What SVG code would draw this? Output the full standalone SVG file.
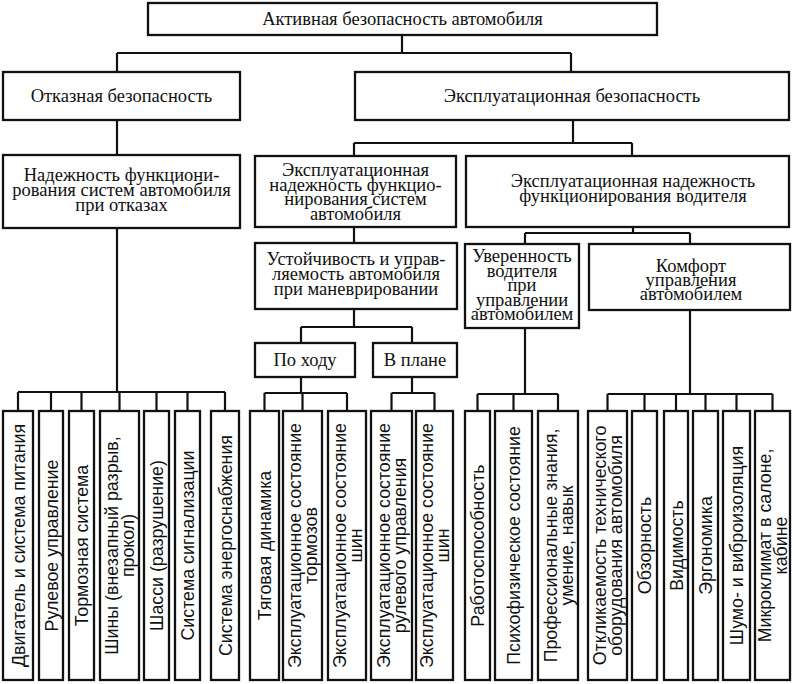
<svg xmlns="http://www.w3.org/2000/svg" width="794" height="684" viewBox="0 0 794 684">
<style>
.b{fill:#fff;stroke:#111;stroke-width:2.3}
.c{fill:none;stroke:#111;stroke-width:2.2}
.t{font-family:"Liberation Serif","Times New Roman",serif;font-size:18.5px;fill:#111;text-anchor:middle}
.v{font-family:"Liberation Sans",Arial,sans-serif;font-size:17.8px;fill:#111;text-anchor:middle}
</style>
<rect width="794" height="684" fill="#fff"/>
<g id="connectors" class="c">
<path d="M402 35V53M117 53H571M117 53V72M571 53V72"/>
<path d="M117 120V155"/>
<path d="M573 120V143M354 143H632M354 143V156M632 143V156"/>
<path d="M354 227V243"/>
<path d="M633 227V233M525 233H690M525 233V244M690 233V244"/>
<path d="M354 309V327M301 327H412M301 327V343M412 327V343"/>
<path d="M117 228V392M18 392H225M18 392V411M51 392V411M81.5 392V411M119.5 392V411M156.5 392V411M187.5 392V411M225 392V411"/>
<path d="M301 377V393M264.5 393H347M264.5 393V411M302.5 393V411M347 393V411"/>
<path d="M412 377V393M391.5 393H434.5M391.5 393V411M434.5 393V411"/>
<path d="M525 328V394M477.5 394H558M477.5 394V411M513.5 394V411M558 394V411"/>
<path d="M690 310V394M607.5 394H772.5M607.5 394V411M644.5 394V411M676 394V411M705.5 394V411M736.5 394V411M772.5 394V411"/>
</g>
<g id="n-root"><rect class="b" x="148" y="3" width="509" height="32"/><text class="t" x="402.5" y="25">Активная безопасность автомобиля</text></g>
<g id="n-otkaz"><rect class="b" x="3" y="72" width="237" height="48"/><text class="t" x="121.5" y="102">Отказная безопасность</text></g>
<g id="n-expl"><rect class="b" x="355" y="72" width="434" height="48"/><text class="t" x="572" y="102">Эксплуатационная безопасность</text></g>
<g id="n-nadezh"><rect class="b" x="3" y="155" width="237" height="73"/><text class="t" x="121.5" y="181">Надежность функциони-</text><text class="t" x="121.5" y="196">рования систем автомобиля</text><text class="t" x="121.5" y="211">при отказах</text></g>
<g id="n-sys"><rect class="b" x="255" y="156" width="201" height="71"/><text class="t" x="355.5" y="176">Эксплуатационная</text><text class="t" x="355.5" y="190.5">надежность функцио-</text><text class="t" x="355.5" y="205">нирования систем</text><text class="t" x="355.5" y="219.5">автомобиля</text></g>
<g id="n-driver"><rect class="b" x="466" y="156" width="323" height="71"/><text class="t" x="633" y="187">Эксплуатационная надежность</text><text class="t" x="633" y="201.5">функционирования водителя</text></g>
<g id="n-ustoich"><rect class="b" x="255" y="243" width="202" height="66"/><text class="t" x="356" y="265">Устойчивость и управ-</text><text class="t" x="356" y="280">ляемость автомобиля</text><text class="t" x="356" y="295">при маневрировании</text></g>
<g id="n-uver"><rect class="b" x="465" y="244" width="114" height="84"/><text class="t" x="522" y="262">Уверенность</text><text class="t" x="522" y="276.5">водителя</text><text class="t" x="522" y="291">при</text><text class="t" x="522" y="305.5">управлении</text><text class="t" x="522" y="320">автомобилем</text></g>
<g id="n-komfort"><rect class="b" x="589" y="244" width="201" height="66"/><text class="t" x="691" y="272">Комфорт</text><text class="t" x="691" y="286">управления</text><text class="t" x="691" y="300">автомобилем</text></g>
<g id="n-pohodu"><rect class="b" x="255" y="343" width="100" height="34"/><text class="t" x="305" y="366">По ходу</text></g>
<g id="n-vplane"><rect class="b" x="373" y="343" width="84" height="34"/><text class="t" x="415" y="366">В плане</text></g>
<g id="c01"><rect class="b" x="3" y="411" width="30" height="269"/><text class="v" transform="translate(18 545.5) rotate(-90)" y="6.5">Двигатель и система питания</text></g>
<g id="c02"><rect class="b" x="39" y="411" width="24" height="269"/><text class="v" transform="translate(51 545.5) rotate(-90)" y="6.5">Рулевое управление</text></g>
<g id="c03"><rect class="b" x="69" y="411" width="25" height="269"/><text class="v" transform="translate(81.5 545.5) rotate(-90)" y="6.5">Тормозная система</text></g>
<g id="c04"><rect class="b" x="100" y="411" width="39" height="269"/><text class="v" transform="translate(119.5 545.5) rotate(-90)"><tspan x="0" y="-1.5">Шины (внезапный разрыв,</tspan><tspan x="0" y="14.5">прокол)</tspan></text></g>
<g id="c05"><rect class="b" x="144" y="411" width="25" height="269"/><text class="v" transform="translate(156.5 545.5) rotate(-90)" y="6.5">Шасси (разрушение)</text></g>
<g id="c06"><rect class="b" x="175" y="411" width="25" height="269"/><text class="v" transform="translate(187.5 545.5) rotate(-90)" y="6.5">Система сигнализации</text></g>
<g id="c07"><rect class="b" x="211" y="411" width="28" height="269"/><text class="v" transform="translate(225 545.5) rotate(-90)" y="6.5">Система энергоснабжения</text></g>
<g id="c08"><rect class="b" x="250" y="411" width="29" height="269"/><text class="v" transform="translate(264.5 545.5) rotate(-90)" y="6.5">Тяговая динамика</text></g>
<g id="c09"><rect class="b" x="283" y="411" width="39" height="269"/><text class="v" transform="translate(302.5 545.5) rotate(-90)"><tspan x="0" y="-1.5">Эксплуатационное состояние</tspan><tspan x="0" y="14.5">тормозов</tspan></text></g>
<g id="c10"><rect class="b" x="328" y="411" width="38" height="269"/><text class="v" transform="translate(347 545.5) rotate(-90)"><tspan x="0" y="-1.5">Эксплуатационное состояние</tspan><tspan x="0" y="14.5">шин</tspan></text></g>
<g id="c11"><rect class="b" x="371" y="411" width="41" height="269"/><text class="v" transform="translate(391.5 545.5) rotate(-90)"><tspan x="0" y="-1.5">Эксплуатационное состояние</tspan><tspan x="0" y="14.5">рулевого управления</tspan></text></g>
<g id="c12"><rect class="b" x="416" y="411" width="37" height="269"/><text class="v" transform="translate(434.5 545.5) rotate(-90)"><tspan x="0" y="-1.5">Эксплуатационное состояние</tspan><tspan x="0" y="14.5">шин</tspan></text></g>
<g id="c13"><rect class="b" x="465" y="411" width="25" height="269"/><text class="v" transform="translate(477.5 545.5) rotate(-90)" y="6.5">Работоспособность</text></g>
<g id="c14"><rect class="b" x="495" y="411" width="37" height="269"/><text class="v" transform="translate(513.5 545.5) rotate(-90)" y="6.5">Психофизическое состояние</text></g>
<g id="c15"><rect class="b" x="538" y="411" width="40" height="269"/><text class="v" transform="translate(558 545.5) rotate(-90)"><tspan x="0" y="-1.5">Профессиональные знания,</tspan><tspan x="0" y="14.5">умение, навык</tspan></text></g>
<g id="c16"><rect class="b" x="588" y="411" width="39" height="269"/><text class="v" transform="translate(607.5 545.5) rotate(-90)"><tspan x="0" y="-1.5">Откликаемость технического</tspan><tspan x="0" y="14.5">оборудования автомобиля</tspan></text></g>
<g id="c17"><rect class="b" x="632" y="411" width="25" height="269"/><text class="v" transform="translate(644.5 545.5) rotate(-90)" y="6.5">Обзорность</text></g>
<g id="c18"><rect class="b" x="664" y="411" width="24" height="269"/><text class="v" transform="translate(676 545.5) rotate(-90)" y="6.5">Видимость</text></g>
<g id="c19"><rect class="b" x="693" y="411" width="25" height="269"/><text class="v" transform="translate(705.5 545.5) rotate(-90)" y="6.5">Эргономика</text></g>
<g id="c20"><rect class="b" x="723" y="411" width="27" height="269"/><text class="v" transform="translate(736.5 545.5) rotate(-90)" y="6.5">Шумо- и виброизоляция</text></g>
<g id="c21"><rect class="b" x="755" y="411" width="35" height="269"/><text class="v" transform="translate(772.5 545.5) rotate(-90)"><tspan x="0" y="-1.5">Микроклимат в салоне,</tspan><tspan x="0" y="14.5">кабине</tspan></text></g>
</svg>
